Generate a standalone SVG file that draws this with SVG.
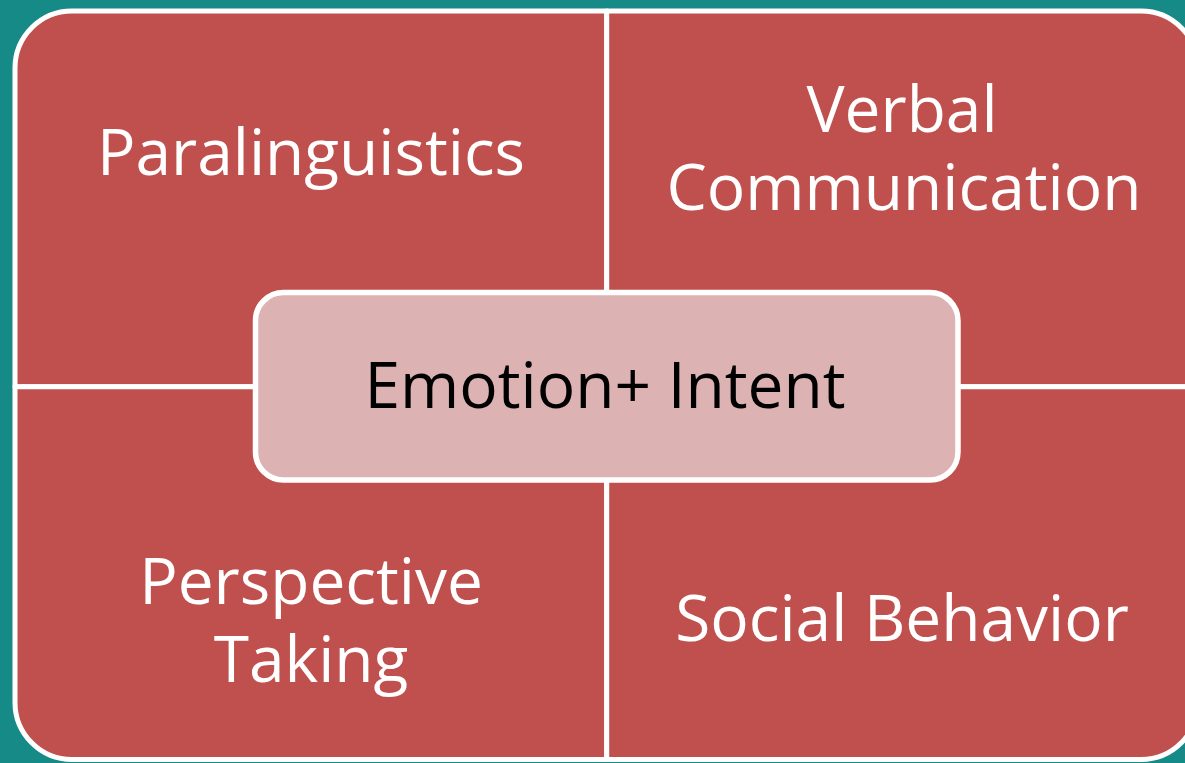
<svg xmlns="http://www.w3.org/2000/svg" width="1185" height="763" viewBox="0 0 1185 763">
  <style>
    .quad { fill: #c0504d; stroke: #ffffff; stroke-width: 5; stroke-linejoin: round; }
    .center { fill: #dcb2b2; stroke: #ffffff; stroke-width: 5.5; }
    .lbl { font-family: "Open Sans", "Liberation Sans", sans-serif; font-size: 64px; fill: #ffffff; text-anchor: middle; }
    .clbl { font-family: "Open Sans", "Liberation Sans", sans-serif; font-size: 64px; fill: #000000; text-anchor: middle; }
  </style>
  <rect x="0" y="0" width="1185" height="763" fill="#168a87"/>
  <g id="paralinguistics">
    <path class="quad" d="M15,386.8 V68 A57,57 0 0 1 72,11 H606.7 V386.8 Z"/>
    <text class="lbl" x="311" y="175">Paralinguistics</text>
  </g>
  <g id="verbal-communication">
    <path class="quad" d="M606.7,11 H1141 A57,57 0 0 1 1198,68 V386.8 H606.7 Z"/>
    <text class="lbl" x="902" y="132">Verbal</text>
    <text class="lbl" x="904" y="210">Communication</text>
  </g>
  <g id="perspective-taking">
    <path class="quad" d="M15,386.8 H606.7 V759.5 H72 A57,57 0 0 1 15,702.5 Z"/>
    <text class="lbl" x="311" y="604">Perspective</text>
    <text class="lbl" x="311" y="682">Taking</text>
  </g>
  <g id="social-behavior">
    <path class="quad" d="M606.7,386.8 H1198 V702.5 A57,57 0 0 1 1141,759.5 H606.7 Z"/>
    <text class="lbl" x="902" y="641">Social Behavior</text>
  </g>
  <g id="emotion-intent">
    <rect class="center" x="255.5" y="292.5" width="702.5" height="187.5" rx="28" ry="28"/>
    <text class="clbl" x="605" y="408">Emotion+ Intent</text>
  </g>
</svg>
